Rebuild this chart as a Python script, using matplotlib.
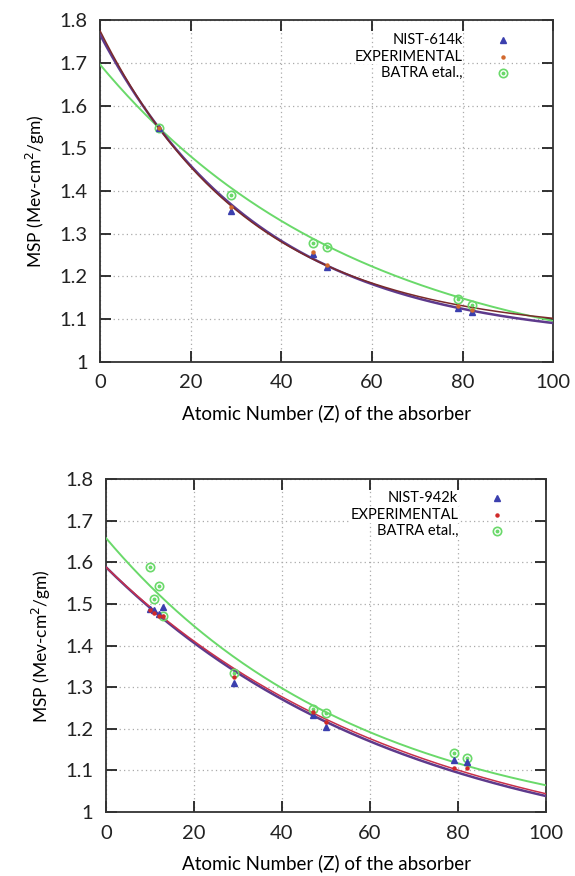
import numpy as np
import matplotlib
matplotlib.use("Agg")
import matplotlib.pyplot as plt

plt.rcParams['font.family'] = ['Lato', 'DejaVu Sans']

# ---------------- data: top panel (614 keV) ----------------
z_top = [13, 29, 47, 50, 79, 82]
nist_top = [1.547, 1.353, 1.253, 1.222, 1.126, 1.117]
exp_top = [1.547, 1.362, 1.258, 1.226, 1.130, 1.121]
batra_top = [1.547, 1.391, 1.278, 1.269, 1.147, 1.133]
# fitted curves: a + b*exp(-Z/c)
fit_nist_top = [1.046, 0.720, 36.0]
fit_exp_top = [1.066, 0.709, 33.5]
fit_batra_top = [0.970, 0.726, 57.0]

# ---------------- data: bottom panel (942 keV) ----------------
z_bot = [10, 11, 12, 13, 29, 47, 50, 79, 82]
nist_bot = [1.489, 1.485, 1.477, 1.492, 1.310, 1.233, 1.205, 1.125, 1.120]
exp_bot = [1.485, 1.478, 1.470, 1.471, 1.325, 1.241, 1.217, 1.107, 1.105]
batra_bot = [1.588, 1.511, 1.543, 1.471, 1.335, 1.247, 1.238, 1.143, 1.131]
fit_nist_bot = [0.874, 0.715, 68.0]
fit_exp_bot = [0.872, 0.717, 70.0]
fit_batra_bot = [0.937, 0.722, 57.6]

labels_top = ["NIST-614k", "EXPERIMENTAL", "BATRA etal.,"]
labels_bot = ["NIST-942k", "EXPERIMENTAL", "BATRA etal.,"]
xticks = [0, 20, 40, 60, 80, 100]
yticks = [1, 1.1, 1.2, 1.3, 1.4, 1.5, 1.6, 1.7, 1.8]
ytick_labels = ["1", "1.1", "1.2", "1.3", "1.4", "1.5", "1.6", "1.7", "1.8"]
xlabel = "Atomic Number (Z) of the absorber"
ylabel = "MSP (Mev-cm$^2$/gm)"

C_NIST_LINE = "#5e3a8c"
C_NIST_PT = "#3b3fae"
C_GREEN = "#6ad96a"

fig = plt.figure(figsize=(5.75, 8.76), dpi=100)
ax1 = fig.add_axes([0.174, 0.587, 0.788, 0.390])
ax2 = fig.add_axes([0.184, 0.073, 0.766, 0.380])


def model(p, z):
    return p[0] + p[1] * np.exp(-z / p[2])


def draw(ax, z, nist, exp, batra, fn, fe, fb, labels, exp_line, exp_pt,
         tx, mx, rows):
    zz = np.linspace(0, 100, 300)
    ax.plot(zz, model(fb, zz), color=C_GREEN, lw=1.4, zorder=3)
    ax.plot(zz, model(fn, zz), color=C_NIST_LINE, lw=1.8, zorder=3)
    ax.plot(zz, model(fe, zz), color=exp_line, lw=1.1, zorder=3)
    ax.plot(z, batra, ls='none', marker='o', ms=6, mfc='none', mec=C_GREEN,
            mew=1.2, zorder=4)
    ax.plot(z, batra, ls='none', marker='o', ms=1.8, color=C_GREEN, zorder=4)
    ax.plot(z, nist, ls='none', marker='^', ms=5, color=C_NIST_PT, zorder=5)
    ax.plot(z, exp, ls='none', marker='o', ms=2.2, color=exp_pt, zorder=6)

    ax.set_xlim(0, 100)
    ax.set_ylim(1, 1.8)
    ax.set_xticks(xticks)
    ax.set_yticks(yticks)
    ax.set_yticklabels(ytick_labels)
    ax.tick_params(direction='in', length=8, width=1.3, top=True, right=True,
                   labelsize=14.5, colors='#222222', pad=9)
    ax.grid(True, ls=(0, (1, 2.5)), color='#aaaaaa', lw=0.9)
    for s in ax.spines.values():
        s.set_linewidth(1.3)
        s.set_color('#333333')
    ax.set_xlabel(xlabel, fontsize=13.5, labelpad=9)
    ax.set_ylabel(ylabel, fontsize=12.5, labelpad=9)

    # key
    for lab, r in zip(labels, rows):
        ax.text(tx, r, lab, transform=ax.transAxes, ha='right',
                va='center', fontsize=10.5, zorder=7,
                bbox=dict(fc='white', ec='none', pad=0.3))
    ax.plot([mx], [rows[0]], transform=ax.transAxes, marker='^', ms=5,
            color=C_NIST_PT, clip_on=False)
    ax.plot([mx], [rows[1]], transform=ax.transAxes, marker='o', ms=2.2,
            color=exp_pt, clip_on=False)
    ax.plot([mx], [rows[2]], transform=ax.transAxes, marker='o', ms=6,
            mfc='none', mec=C_GREEN, mew=1.2, clip_on=False)
    ax.plot([mx], [rows[2]], transform=ax.transAxes, marker='o', ms=1.8,
            color=C_GREEN, clip_on=False)


draw(ax1, z_top, nist_top, exp_top, batra_top, fit_nist_top, fit_exp_top,
     fit_batra_top, labels_top, "#7a2a2a", "#d2692e", 0.801, 0.890,
     [0.942, 0.892, 0.845])
draw(ax2, z_bot, nist_bot, exp_bot, batra_bot, fit_nist_bot, fit_exp_bot,
     fit_batra_bot, labels_bot, "#c8304a", "#d02a2a", 0.800, 0.889,
     [0.943, 0.892, 0.844])

fig.savefig("out.png", dpi=100)
